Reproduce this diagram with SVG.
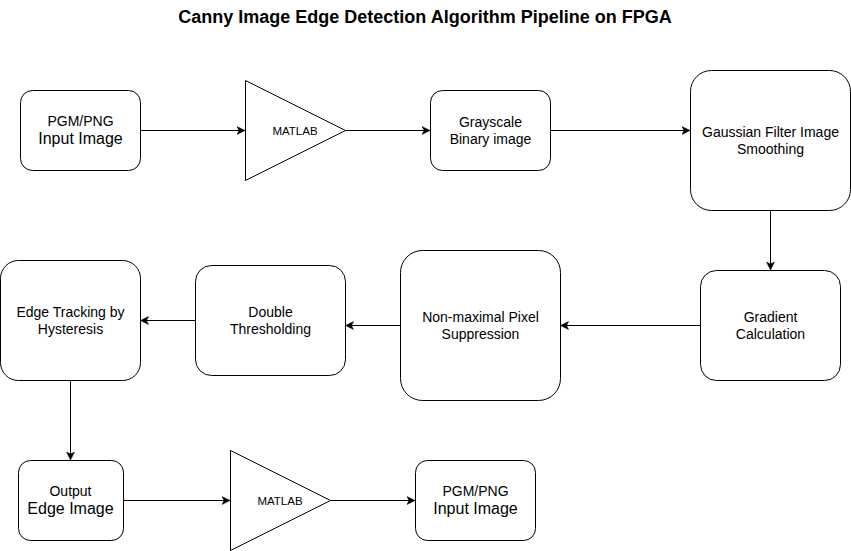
<svg xmlns="http://www.w3.org/2000/svg" width="851" height="551" viewBox="0 0 851 551">
<defs>
<style>
.box{fill:#fff;stroke:#000;stroke-width:1}
.t{font-family:"Liberation Sans",Arial,sans-serif;font-size:14px;fill:#000;text-anchor:middle}
.big{font-size:16px}
.ml{font-size:11.5px}
.title{font-family:"Liberation Sans",Arial,sans-serif;font-size:18px;font-weight:bold;text-anchor:middle;fill:#000}
.c{fill:none;stroke:#000;stroke-width:1;marker-end:url(#ah)}
</style>
<marker id="ah" markerUnits="userSpaceOnUse" markerWidth="10" markerHeight="10" refX="8" refY="4" orient="auto" viewBox="0 0 10 8">
<path d="M0,0 L8,4 L0,8 L2,4 Z" fill="#000" stroke="#000" stroke-width="0.5"/>
</marker>
</defs>
<rect width="851" height="551" fill="#fff"/>
<text class="title" x="425" y="23">Canny Image Edge Detection Algorithm Pipeline on FPGA</text>

<g id="connectors">
<path class="c" d="M140.5,130.5 H245"/>
<path class="c" d="M345.5,130.5 H430"/>
<path class="c" d="M550.5,130.5 H690"/>
<path class="c" d="M770.5,210.5 V270"/>
<path class="c" d="M700.5,325.5 H560.5"/>
<path class="c" d="M400.5,325.5 H345.5"/>
<path class="c" d="M195.5,320.5 H140.5"/>
<path class="c" d="M70.5,380.5 V460"/>
<path class="c" d="M123.5,500.5 H230"/>
<path class="c" d="M330.5,500.5 H415"/>
</g>

<g id="input1">
<rect class="box" x="20.5" y="90.5" width="120" height="80" rx="12"/>
<text class="t" x="80.5" y="125.5">PGM/PNG</text>
<text class="t big" x="80.5" y="143.5">Input Image</text>
</g>
<g id="matlab1">
<path class="box" d="M245.5,80.5 L345.5,130.5 L245.5,180.5 Z"/>
<text class="t ml" x="295" y="134.5">MATLAB</text>
</g>
<g id="grayscale">
<rect class="box" x="430.5" y="90.5" width="120" height="80" rx="12"/>
<text class="t" x="490.5" y="126.5">Grayscale</text>
<text class="t" x="490.5" y="143.5">Binary image</text>
</g>
<g id="gaussian">
<rect class="box" x="690.5" y="70.5" width="160" height="140" rx="21"/>
<text class="t" x="770.5" y="136.5">Gaussian Filter Image</text>
<text class="t" x="770.5" y="153.5">Smoothing</text>
</g>
<g id="gradient">
<rect class="box" x="700.5" y="270.5" width="140" height="110" rx="16"/>
<text class="t" x="770.5" y="321.5">Gradient</text>
<text class="t" x="770.5" y="338.5">Calculation</text>
</g>
<g id="nms">
<rect class="box" x="400.5" y="250.5" width="160" height="150" rx="22"/>
<text class="t" x="480.5" y="321.5">Non-maximal Pixel</text>
<text class="t" x="480.5" y="338.5">Suppression</text>
</g>
<g id="double">
<rect class="box" x="195.5" y="265.5" width="150" height="110" rx="16"/>
<text class="t" x="270.5" y="316.5">Double</text>
<text class="t" x="270.5" y="333.5">Thresholding</text>
</g>
<g id="hysteresis">
<rect class="box" x="0.5" y="260.5" width="140" height="120" rx="18"/>
<text class="t" x="70.5" y="316.5">Edge Tracking by</text>
<text class="t" x="70.5" y="333.5">Hysteresis</text>
</g>
<g id="output">
<rect class="box" x="18.5" y="460.5" width="105" height="80" rx="12"/>
<text class="t" x="70.5" y="496">Output</text>
<text class="t big" x="70.5" y="514">Edge Image</text>
</g>
<g id="matlab2">
<path class="box" d="M230.5,450.5 L330.5,500.5 L230.5,550.5 Z"/>
<text class="t ml" x="280" y="504.5">MATLAB</text>
</g>
<g id="input2">
<rect class="box" x="415.5" y="460.5" width="120" height="80" rx="12"/>
<text class="t" x="475.5" y="496">PGM/PNG</text>
<text class="t big" x="475.5" y="514">Input Image</text>
</g>
</svg>
